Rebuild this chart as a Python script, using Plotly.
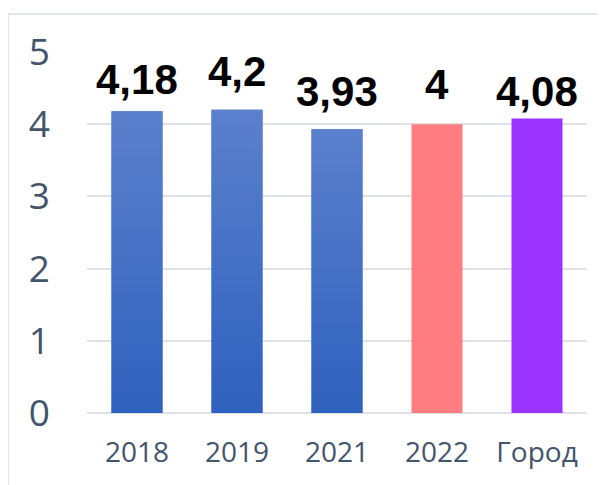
import plotly.graph_objects as go

categories = ["2018", "2019", "2021", "2022", "Город"]
values = [4.18, 4.2, 3.93, 4.0, 4.08]
labels = ["4,18", "4,2", "3,93", "4", "4,08"]
bar_colors = ["#4471C6", "#4471C6", "#4471C6", "#FF7C80", "#9B33FF"]
gradient_bars = [True, True, True, False, False]
label_shift = [6, 13, 12, 14, 1]

BAR_W = 0.51
pos = list(range(len(categories)))

fig = go.Figure()
fig.add_trace(go.Bar(
    x=pos, y=values, width=BAR_W,
    marker=dict(color=bar_colors, line=dict(width=0)),
    hoverinfo="skip", showlegend=False,
))

# blue bars have a vertical gradient, drawn as filled polygons on top
for i, v in enumerate(values):
    if not gradient_bars[i]:
        continue
    fig.add_trace(go.Scatter(
        x=[i - BAR_W / 2, i + BAR_W / 2, i + BAR_W / 2, i - BAR_W / 2, i - BAR_W / 2],
        y=[0, 0, v, v, 0],
        mode="lines", line=dict(width=0),
        fill="toself",
        fillgradient=dict(type="vertical",
                          colorscale=[[0, "#2F61BE"], [1, "#5B80CC"]]),
        hoverinfo="skip", showlegend=False,
    ))

for i, v in enumerate(values):
    fig.add_annotation(
        x=i, y=v, text="<b>%s</b>" % labels[i], showarrow=False,
        yanchor="bottom", yshift=label_shift[i],
        font=dict(family="Liberation Sans, Arial", size=42, color="#000000"),
    )

# frame lines of the chart area (only top and left visible)
fig.add_shape(type="line", xref="paper", yref="paper",
              x0=-0.158, x1=1.2, y0=1.105, y1=1.105,
              line=dict(color="#D9DDE3", width=1.5))
fig.add_shape(type="line", xref="paper", yref="paper",
              x0=-0.158, x1=-0.158, y0=-0.3, y1=1.105,
              line=dict(color="#D9DDE3", width=1.5))

# page body has an 8px margin, so the figure is offset accordingly
fig.update_layout(
    width=605, height=485,
    margin=dict(l=79, r=26, t=44, b=80, autoexpand=False),
    paper_bgcolor="white", plot_bgcolor="white",
    bargap=0.49,
    xaxis=dict(
        range=[-0.5, 4.5], tickvals=pos, ticktext=categories,
        showgrid=False, zeroline=False, showline=False,
        tickfont=dict(family="Open Sans", size=28, color="#44546A"),
        ticklabelstandoff=20, automargin=False,
    ),
    yaxis=dict(
        range=[0, 5], tickvals=[0, 1, 2, 3, 4, 5],
        showgrid=True, gridcolor="#DEE2E7", gridwidth=1.5,
        zeroline=True, zerolinecolor="#DEE2E7", zerolinewidth=1.5,
        showline=False,
        tickfont=dict(family="Open Sans", size=37, color="#44546A"),
        ticklabelstandoff=36, automargin=False,
    ),
)

fig.write_html("out.html")
